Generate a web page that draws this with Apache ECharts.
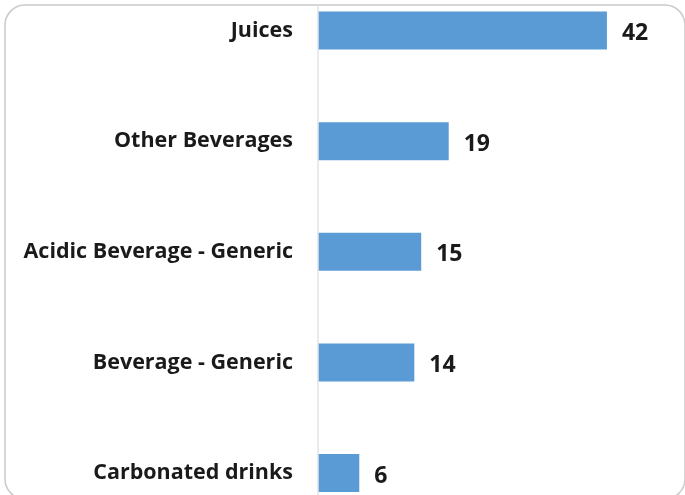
<!DOCTYPE html>
<html>
<head>
<meta charset="utf-8">
<style>
  html, body { margin: 0; padding: 0; background: #fff; }
  #chart { width: 685px; height: 495px; }
</style>
<script src="https://cdn.jsdelivr.net/npm/echarts@6/dist/echarts.min.js"></script>
</head>
<body>
<div id="chart"></div>
<script>
// Beverage categories, listed top to bottom
const categories = ['Juices', 'Other Beverages', 'Acidic Beverage - Generic', 'Beverage - Generic', 'Carbonated drinks'];
// Count per category
const counts = [42, 19, 15, 14, 6];

const chart = echarts.init(document.getElementById('chart'), null, { renderer: 'canvas' });

chart.setOption({
  backgroundColor: '#ffffff',
  animation: false,
  graphic: [{
    type: 'rect',
    shape: { x: 5, y: 5, width: 680, height: 494, r: 20 },
    style: { fill: 'none', stroke: '#c9c9c9', lineWidth: 1.5 },
    silent: true,
    z: 0
  }],
  // category centres sit on the grid's top and bottom edges (boundaryGap off)
  grid: { left: 318, top: 30.5, width: 344, height: 442.5, containLabel: false },
  xAxis: {
    type: 'value',
    min: 0,
    max: 50,
    show: false
  },
  yAxis: {
    type: 'category',
    data: categories,
    inverse: true,
    boundaryGap: false,
    axisLine: { show: false },
    axisTick: { show: false },
    axisLabel: {
      margin: 25,
      padding: [5, 0, 0, 0],
      color: '#1a1a1a',
      fontFamily: 'Open Sans',
      fontWeight: 'bold',
      fontSize: 21.5
    }
  },
  series: [{
    type: 'bar',
    data: counts,
    barWidth: 38,
    itemStyle: { color: '#5b9bd5' },
    label: {
      show: true,
      position: 'right',
      distance: 15,
      offset: [0, 3],
      color: '#1a1a1a',
      fontFamily: 'Open Sans',
      fontWeight: 'bold',
      fontSize: 23
    },
    markLine: {
      silent: true,
      symbol: 'none',
      label: { show: false },
      lineStyle: { color: '#e3e3e3', width: 1.5, type: 'solid' },
      data: [[{ xAxis: 0, y: 5 }, { xAxis: 0, y: 495 }]]
    }
  }]
});
</script>
</body>
</html>
